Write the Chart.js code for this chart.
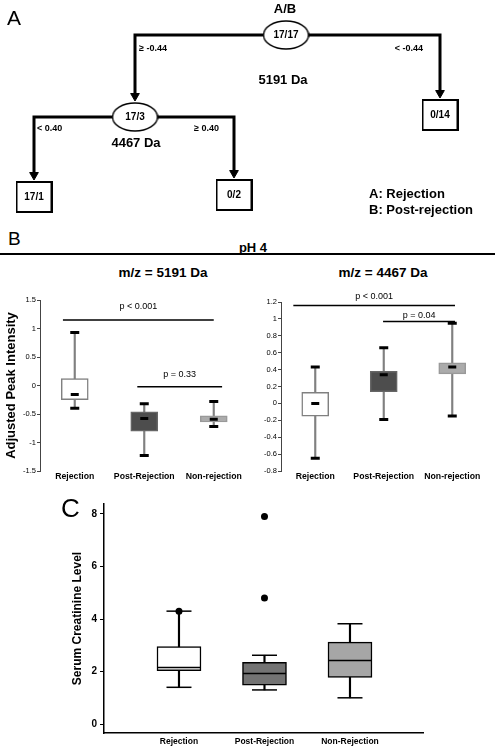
<!DOCTYPE html>
<html>
<head>
<meta charset="utf-8">
<script src="https://cdn.jsdelivr.net/npm/chart.js@4.4.0/dist/chart.umd.min.js"></script>
<style>
  body { margin: 0; background: #fff; font-family: Arial, "Liberation Sans", sans-serif; }
  #page { position: relative; width: 495px; height: 750px; overflow: hidden; background: #fff; }
  canvas { position: absolute; }
  .txt { position: absolute; line-height: 1; white-space: nowrap; color: #000; }
  .ctr { text-align: center; width: 200px; }
</style>
</head>
<body>
<div id="page">
  <canvas id="treeChart" width="495" height="228" style="left:0;top:0"></canvas>
  <canvas id="chart5191" width="250" height="195" style="left:0;top:290px"></canvas>
  <canvas id="chart4467" width="250" height="195" style="left:245px;top:290px"></canvas>
  <canvas id="chartCreat" width="380" height="255" style="left:66px;top:495px"></canvas>

  <div class="txt" style="left:7px;top:7px;font-size:21px">A</div>
  <div class="txt ctr" style="left:185px;top:2px;font-size:13px;font-weight:bold">A/B</div>
  <div class="txt" style="left:369px;top:187px;font-size:13px;font-weight:bold">A: Rejection</div>
  <div class="txt" style="left:369px;top:203px;font-size:13px;font-weight:bold">B: Post-rejection</div>

  <div class="txt" style="left:8px;top:229px;font-size:19px">B</div>
  <div class="txt ctr" style="left:153px;top:241px;font-size:13px;font-weight:bold">pH 4</div>
  <div style="position:absolute;left:0;top:253px;width:495px;height:1.5px;background:#000"></div>
  <div class="txt ctr" style="left:63px;top:266px;font-size:13.5px;font-weight:bold">m/z = 5191 Da</div>
  <div class="txt ctr" style="left:283px;top:266px;font-size:13.5px;font-weight:bold">m/z = 4467 Da</div>

  <div class="txt" style="left:61px;top:495px;font-size:26px">C</div>
</div>
<script>
// ---------- Panel A: decision tree ----------
const nodeLabels = ['17/17', '17/3', '0/14', '17/1', '0/2'];
const nodeKinds = ['split', 'split', 'leaf', 'leaf', 'leaf'];
const edgeParent = [0, 0, 1, 1];
const edgeChild = [1, 2, 3, 4];
const splitRules = ['\u2265 -0.44', '< -0.44', '< 0.40', '\u2265 0.40'];
const splitMasses = ['5191 Da', '4467 Da'];

// diagram layout (pixels in the tree canvas)
const nodeX = [286, 135, 440, 34, 234];
const nodeY = [35, 117, 115, 197, 195];
const ruleX = [139, 423, 37, 219];
const ruleY = [49, 49, 129, 129];
const ruleAlign = ['left', 'right', 'left', 'right'];
const massX = [283, 136];
const massY = [80, 143];

// ---------- Panel B: m/z = 5191 Da ----------
const groupsB = ['Rejection', 'Post-Rejection', 'Non-rejection'];
const mz5191Low = [-0.40, -1.23, -0.72];
const mz5191Q1 = [-0.25, -0.80, -0.64];
const mz5191Median = [-0.16, -0.58, -0.59];
const mz5191Q3 = [0.12, -0.46, -0.53];
const mz5191High = [0.93, -0.32, -0.28];
const mz5191Ticks = [-1.5, -1, -0.5, 0, 0.5, 1, 1.5];
const mz5191P = ['p < 0.001', 'p = 0.33'];
const mz5191PLevel = [1.15, -0.02];
const mz5191PTextLevel = [1.38, 0.2];
const mz5191PFrom = [-0.17, 0.9];
const mz5191PTo = [2.0, 2.12];

// ---------- Panel B: m/z = 4467 Da ----------
const mz4467Low = [-0.65, -0.19, -0.15];
const mz4467Q1 = [-0.15, 0.14, 0.35];
const mz4467Median = [0.0, 0.34, 0.43];
const mz4467Q3 = [0.13, 0.38, 0.48];
const mz4467High = [0.43, 0.66, 0.95];
const mz4467Ticks = [-0.8, -0.6, -0.4, -0.2, 0, 0.2, 0.4, 0.6, 0.8, 1, 1.2];
const mz4467P = ['p < 0.001', 'p = 0.04'];
const mz4467PLevel = [1.16, 0.97];
const mz4467PTextLevel = [1.26, 1.04];
const mz4467PFrom = [-0.32, 0.99];
const mz4467PTo = [2.04, 2.04];

// ---------- Panel C: serum creatinine ----------
const groupsC = ['Rejection', 'Post-Rejection', 'Non-Rejection'];
const creatLow = [1.4, 1.3, 1.0];
const creatQ1 = [2.03, 1.48, 1.78];
const creatMedian = [2.15, 1.93, 2.42];
const creatQ3 = [2.95, 2.35, 3.12];
const creatHigh = [4.3, 2.62, 3.82];
const creatOutlierGroup = [0, 1, 1];
const creatOutlierValue = [4.3, 7.9, 4.8];
const creatTicks = [0, 2, 4, 6, 8];

Chart.defaults.font.family = 'Arial, "Liberation Sans", sans-serif';
Chart.defaults.color = '#000';

// node shapes used as point styles
function nodeImage(kind) {
  const c = document.createElement('canvas');
  const g = c.getContext('2d');
  if (kind === 'split') {
    c.width = 47; c.height = 30;
    g.fillStyle = '#fff'; g.strokeStyle = '#000'; g.lineWidth = 1.4;
    g.beginPath(); g.ellipse(23.5, 15, 22.5, 14, 0, 0, Math.PI * 2); g.fill(); g.stroke();
  } else {
    c.width = 37; c.height = 32;
    g.fillStyle = '#fff'; g.strokeStyle = '#000'; g.lineWidth = 2;
    g.fillRect(1, 1, 35, 30); g.strokeRect(1, 1, 35, 30);
  }
  return c;
}
const splitImg = nodeImage('split');
const leafImg = nodeImage('leaf');
const halfH = k => (k === 'split' ? 15 : 16);

const treeDatasets = [];
edgeParent.forEach((p, e) => {
  const c = edgeChild[e];
  const tip = nodeY[c] - halfH(nodeKinds[c]) - 1;
  treeDatasets.push({
    data: [{ x: nodeX[p], y: nodeY[p] }, { x: nodeX[c], y: nodeY[p] }, { x: nodeX[c], y: tip - 6 }],
    showLine: true, borderColor: '#000', borderWidth: 3, pointRadius: 0, order: 3
  });
});
treeDatasets.push({
  data: edgeChild.map(c => ({ x: nodeX[c], y: nodeY[c] - halfH(nodeKinds[c]) - 6 })),
  pointStyle: 'triangle', rotation: 180, pointRadius: 5,
  backgroundColor: '#000', borderColor: '#000', borderWidth: 1, order: 2
});
treeDatasets.push({
  data: nodeLabels.map((l, i) => ({ x: nodeX[i], y: nodeY[i] })),
  pointStyle: nodeKinds.map(k => (k === 'split' ? splitImg : leafImg)),
  pointRadius: 1, order: 1
});

const treeText = {
  id: 'treeText',
  afterDatasetsDraw(chart) {
    const { ctx, scales: { x, y } } = chart;
    ctx.save();
    ctx.fillStyle = '#000';
    ctx.textBaseline = 'middle';
    ctx.textAlign = 'center';
    ctx.font = 'bold 10px Arial, "Liberation Sans", sans-serif';
    nodeLabels.forEach((l, i) => ctx.fillText(l, x.getPixelForValue(nodeX[i]), y.getPixelForValue(nodeY[i])));
    ctx.font = 'bold 9px Arial, "Liberation Sans", sans-serif';
    splitRules.forEach((r, i) => {
      ctx.textAlign = ruleAlign[i];
      ctx.fillText(r, x.getPixelForValue(ruleX[i]), y.getPixelForValue(ruleY[i]));
    });
    ctx.textAlign = 'center';
    ctx.font = 'bold 13px Arial, "Liberation Sans", sans-serif';
    splitMasses.forEach((m, i) => ctx.fillText(m, x.getPixelForValue(massX[i]), y.getPixelForValue(massY[i])));
    ctx.restore();
  }
};

new Chart('treeChart', {
  type: 'scatter',
  data: { datasets: treeDatasets },
  options: {
    responsive: false, animation: false, events: [],
    layout: { padding: 0, autoPadding: false },
    plugins: { legend: { display: false }, tooltip: { enabled: false } },
    scales: {
      x: { type: 'linear', min: 0, max: 495, display: false },
      y: { type: 'linear', min: 0, max: 228, reverse: true, display: false }
    }
  },
  plugins: [treeText]
});

// ---------- box plot helpers ----------
function boxDatasets(s, look) {
  const pts = arr => arr.map((v, i) => ({ x: i, y: v }));
  return [
    { type: 'bar', data: s.low.map((v, i) => ({ x: i, y: [v, s.high[i]] })), backgroundColor: look.whisker,
      borderWidth: 0, barThickness: look.whiskerWidth, grouped: false, order: 4 },
    { type: 'bar', data: s.q1.map((v, i) => ({ x: i, y: [v, s.q3[i]] })), backgroundColor: look.fill,
      borderColor: look.edge, borderWidth: look.edgeWidth, borderSkipped: false, barThickness: look.boxWidth,
      grouped: false, order: 3 },
    { type: 'line', showLine: false, data: pts(s.low).concat(pts(s.high)), pointStyle: 'line',
      pointRadius: look.capRadius, pointBorderWidth: look.capWidth, pointBorderColor: '#000', order: 2 },
    { type: 'line', showLine: false, data: pts(s.median), pointStyle: 'line',
      pointRadius: look.medianRadius, pointBorderWidth: look.medianWidth, pointBorderColor: look.medianColor, order: 1 }
  ];
}

function pDatasets(labels, level, textLevel, from, to) {
  return labels.map((l, i) => ({
    type: 'line', data: [{ x: from[i], y: level[i] }, { x: to[i], y: level[i] }],
    borderColor: '#000', borderWidth: 1.5, pointRadius: 0, order: 0,
    pLabel: l, pLabelY: textLevel[i]
  }));
}

const pText = {
  id: 'pText',
  afterDatasetsDraw(chart) {
    const { ctx, scales: { x, y } } = chart;
    chart.data.datasets.forEach(ds => {
      if (!ds.pLabel) return;
      ctx.save();
      ctx.font = '9px Arial, "Liberation Sans", sans-serif';
      ctx.fillStyle = '#000';
      ctx.textAlign = 'center';
      ctx.textBaseline = 'middle';
      ctx.fillText(ds.pLabel, x.getPixelForValue((ds.data[0].x + ds.data[1].x) / 2), y.getPixelForValue(ds.pLabelY));
      ctx.restore();
    });
  }
};

function panelB(id, s, ticks, yMin, yMax, pSets, axisWidth, pad, title) {
  return new Chart(id, {
    type: 'bar',
    data: { datasets: boxDatasets(s, {
      whisker: '#808080', whiskerWidth: 1.5,
      fill: ['#ffffff', '#4d4d4d', '#ababab'], edge: ['#808080', '#666666', '#999999'], edgeWidth: 1.5,
      boxWidth: 27, capRadius: 4.5, capWidth: 3, medianRadius: 4, medianWidth: 3, medianColor: '#000'
    }).concat(pSets) },
    options: {
      responsive: false, animation: false, events: [],
      layout: { padding: pad, autoPadding: false },
      plugins: { legend: { display: false }, tooltip: { enabled: false } },
      scales: {
        x: {
          type: 'linear', min: -0.5, max: 2.5, offset: false,
          grid: { display: false, drawTicks: false }, border: { display: false },
          afterBuildTicks: a => { a.ticks = groupsB.map((g, i) => ({ value: i })); },
          afterFit: a => { a.height = 14; },
          ticks: { callback: v => groupsB[v], maxRotation: 0, padding: 0, font: { size: 8.7, weight: 'bold' } }
        },
        y: {
          min: yMin, max: yMax,
          grid: { drawOnChartArea: false, tickLength: 3, color: '#444' },
          border: { color: '#444', width: 1 },
          afterBuildTicks: a => { a.ticks = ticks.map(v => ({ value: v })); },
          afterFit: a => { a.width = axisWidth; },
          ticks: { callback: v => String(+v.toFixed(2)), padding: 1, font: { size: 7.5 } },
          title: { display: !!title, text: title, font: { size: 13, weight: 'bold' }, padding: { top: 4, bottom: 4 } }
        }
      }
    },
    plugins: [pText]
  });
}

panelB('chart5191',
  { low: mz5191Low, q1: mz5191Q1, median: mz5191Median, q3: mz5191Q3, high: mz5191High },
  mz5191Ticks, -1.5, 1.5,
  pDatasets(mz5191P, mz5191PLevel, mz5191PTextLevel, mz5191PFrom, mz5191PTo),
  40, { top: 10, right: 1.5, left: 0, bottom: 0 }, 'Adjusted Peak Intensity');

panelB('chart4467',
  { low: mz4467Low, q1: mz4467Q1, median: mz4467Median, q3: mz4467Q3, high: mz4467High },
  mz4467Ticks, -0.8, 1.2,
  pDatasets(mz4467P, mz4467PLevel, mz4467PTextLevel, mz4467PFrom, mz4467PTo),
  36, { top: 12, right: 8.5, left: 0, bottom: 0 }, '');

// ---------- Panel C ----------
new Chart('chartCreat', {
  type: 'bar',
  data: { datasets: boxDatasets(
    { low: creatLow, q1: creatQ1, median: creatMedian, q3: creatQ3, high: creatHigh },
    { whisker: '#000', whiskerWidth: 1.5,
      fill: ['#ffffff', '#737373', '#a6a6a6'], edge: '#000', edgeWidth: 1.5,
      boxWidth: 44, capRadius: 12.5, capWidth: 1.5, medianRadius: 21.5, medianWidth: 1.5, medianColor: '#000' }
  ).concat([{
    type: 'line', showLine: false,
    data: creatOutlierGroup.map((g, i) => ({ x: g, y: creatOutlierValue[i] })),
    pointStyle: 'circle', pointRadius: 3.5, backgroundColor: '#000', borderColor: '#000', borderWidth: 0, order: 0
  }]) },
  options: {
    responsive: false, animation: false, events: [],
    layout: { padding: { top: 7, right: 23, left: 0, bottom: 0 }, autoPadding: false },
    plugins: { legend: { display: false }, tooltip: { enabled: false } },
    scales: {
      x: {
        type: 'linear', min: -0.877, max: 2.854, offset: false,
        grid: { drawOnChartArea: false, drawTicks: false },
        border: { color: '#000', width: 1.5 },
        afterBuildTicks: a => { a.ticks = groupsC.map((g, i) => ({ value: i })); },
        afterFit: a => { a.height = 17; },
        ticks: { callback: v => groupsC[v], maxRotation: 0, padding: 4, font: { size: 8.5, weight: 'bold' } }
      },
      y: {
        min: -0.34, max: 8.38,
        grid: { drawOnChartArea: false, tickLength: 4, color: '#000' },
        border: { color: '#000', width: 1.5 },
        afterBuildTicks: a => { a.ticks = creatTicks.map(v => ({ value: v })); },
        afterFit: a => { a.width = 38; },
        ticks: { padding: 3, font: { size: 10, weight: 'bold' } },
        title: { display: true, text: 'Serum Creatinine Level', font: { size: 12, weight: 'bold' }, padding: { top: 4, bottom: 4 } }
      }
    }
  }
});
</script>
</body>
</html>
